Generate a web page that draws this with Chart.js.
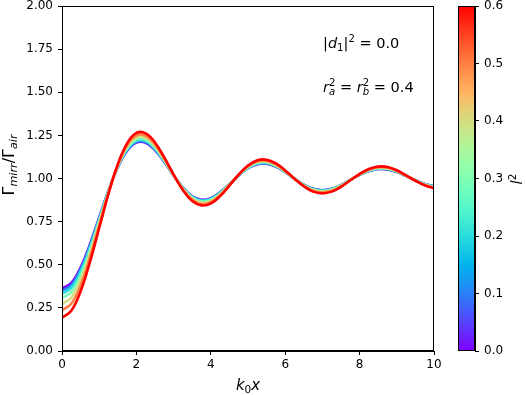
<!DOCTYPE html>
<html>
<head>
<meta charset="utf-8">
<script src="https://cdn.jsdelivr.net/npm/chart.js@4"></script>
<style>
  body { margin: 0; background: #fff; }
  canvas { position: absolute; left: 0; top: 0; }
</style>
</head>
<body>
<canvas id="myChart" width="526" height="395"></canvas>
<canvas id="colorBar" width="526" height="395"></canvas>
<script>
// k0 x positions
var xs = [0, 0.25, 0.5, 0.75, 1, 1.25, 1.5, 1.75, 2, 2.25, 2.5, 2.75, 3, 3.25, 3.5, 3.75, 4, 4.25, 4.5, 4.75,
          5, 5.25, 5.5, 5.75, 6, 6.25, 6.5, 6.75, 7, 7.25, 7.5, 7.75, 8, 8.25, 8.5, 8.75, 9, 9.25, 9.5, 9.75, 10];

// l^2 values of the curves
var l2 = [0.0, 0.1, 0.2, 0.3, 0.4, 0.5, 0.6];

// Gamma_mirr / Gamma_air, one array per l^2
var g00 = [0.363, 0.395, 0.484, 0.617, 0.774, 0.930, 1.065, 1.161, 1.208, 1.207, 1.165, 1.096, 1.018, 0.947, 0.897, 0.877, 0.886, 0.920, 0.968, 1.018,
           1.060, 1.083, 1.086, 1.069, 1.037, 0.999, 0.964, 0.940, 0.932, 0.940, 0.962, 0.992, 1.021, 1.044, 1.055, 1.053, 1.038, 1.014, 0.990, 0.968, 0.956];
var g01 = [0.350, 0.382, 0.473, 0.609, 0.769, 0.929, 1.066, 1.164, 1.213, 1.211, 1.168, 1.098, 1.018, 0.946, 0.895, 0.874, 0.883, 0.918, 0.967, 1.018,
           1.061, 1.085, 1.088, 1.070, 1.038, 0.999, 0.963, 0.939, 0.931, 0.939, 0.961, 0.992, 1.021, 1.044, 1.056, 1.054, 1.039, 1.014, 0.990, 0.968, 0.955];
var g02 = [0.333, 0.366, 0.460, 0.599, 0.763, 0.927, 1.068, 1.169, 1.218, 1.217, 1.173, 1.101, 1.019, 0.945, 0.893, 0.871, 0.881, 0.916, 0.966, 1.019,
           1.062, 1.087, 1.090, 1.072, 1.039, 0.999, 0.963, 0.938, 0.929, 0.938, 0.960, 0.992, 1.022, 1.046, 1.057, 1.055, 1.040, 1.015, 0.989, 0.967, 0.954];
var g03 = [0.307, 0.341, 0.438, 0.583, 0.754, 0.924, 1.071, 1.175, 1.227, 1.226, 1.180, 1.105, 1.019, 0.942, 0.888, 0.866, 0.876, 0.912, 0.965, 1.020,
           1.065, 1.091, 1.094, 1.075, 1.040, 0.999, 0.961, 0.935, 0.926, 0.935, 0.959, 0.991, 1.023, 1.047, 1.060, 1.058, 1.041, 1.015, 0.989, 0.966, 0.952];
var g04 = [0.273, 0.309, 0.411, 0.563, 0.742, 0.921, 1.074, 1.184, 1.238, 1.236, 1.188, 1.110, 1.020, 0.940, 0.883, 0.859, 0.870, 0.908, 0.963, 1.021,
           1.068, 1.095, 1.098, 1.078, 1.042, 0.999, 0.959, 0.932, 0.923, 0.932, 0.957, 0.991, 1.024, 1.050, 1.062, 1.060, 1.043, 1.016, 0.988, 0.964, 0.949];
var g05 = [0.237, 0.274, 0.381, 0.541, 0.729, 0.917, 1.078, 1.193, 1.250, 1.248, 1.198, 1.115, 1.021, 0.936, 0.877, 0.852, 0.863, 0.903, 0.961, 1.022,
           1.071, 1.100, 1.103, 1.082, 1.044, 0.999, 0.957, 0.928, 0.919, 0.928, 0.954, 0.990, 1.025, 1.052, 1.066, 1.063, 1.045, 1.017, 0.988, 0.962, 0.947];
var g06 = [0.193, 0.233, 0.346, 0.515, 0.713, 0.912, 1.083, 1.204, 1.264, 1.262, 1.209, 1.122, 1.023, 0.933, 0.870, 0.844, 0.855, 0.898, 0.959, 1.023,
           1.075, 1.106, 1.109, 1.087, 1.047, 0.999, 0.955, 0.924, 0.914, 0.924, 0.952, 0.990, 1.026, 1.055, 1.069, 1.067, 1.048, 1.018, 0.987, 0.960, 0.944];

var series = [g00, g01, g02, g03, g04, g05, g06];

// tick labels
var yTicks = [0, 0.25, 0.5, 0.75, 1, 1.25, 1.5, 1.75, 2];
var xTicks = [0, 2, 4, 6, 8, 10];
var cbTicks = [0, 0.1, 0.2, 0.3, 0.4, 0.5, 0.6];

var FONT = '"DejaVu Sans", sans-serif';

// matplotlib "rainbow" colormap
function rainbow(t) {
  var r = Math.min(1, Math.abs(2 * t - 0.5));
  var g = Math.abs(Math.sin(Math.PI * t));
  var b = Math.abs(Math.cos(Math.PI * t / 2));
  return 'rgb(' + Math.round(r * 255) + ',' + Math.round(g * 255) + ',' + Math.round(b * 255) + ')';
}

// draw text made of pieces (italic / sub / sup), returns width
function rich(ctx, parts, x, y, size, dry) {
  var cx = x, lastStart = x, lastEnd = x;
  parts.forEach(function (p) {
    var s = (p.sub || p.sup) ? size * 0.7 : size;
    ctx.font = (p.it ? 'italic ' : '') + s + 'px ' + FONT;
    var dy = p.sub ? size * 0.2 : (p.sup ? -size * 0.4 : 0);
    var start = p.stack ? lastStart : cx;
    var w = ctx.measureText(p.t).width;
    if (!dry) ctx.fillText(p.t, start, y + dy);
    if (p.stack) {
      cx = Math.max(lastEnd, start + w);
    } else {
      lastStart = start;
      cx = start + w;
    }
    lastEnd = cx;
  });
  return cx - x;
}

var labelY = [{t: 'Γ'}, {t: 'mirr', it: true, sub: true}, {t: '/Γ'}, {t: 'air', it: true, sub: true}];
var labelX = [{t: 'k', it: true}, {t: '0', sub: true}, {t: 'x', it: true}];
var note1 = [{t: '|'}, {t: 'd', it: true}, {t: '1', sub: true}, {t: '|'}, {t: '2', sup: true}, {t: ' = 0.0'}];
var note2 = [{t: 'r', it: true}, {t: 'a', it: true, sub: true}, {t: '2', sup: true, stack: true}, {t: ' = '},
             {t: 'r', it: true}, {t: 'b', it: true, sub: true}, {t: '2', sup: true, stack: true}, {t: ' = 0.4'}];

var datasets = [];
for (var i = series.length - 1; i >= 0; i--) {
  datasets.push({
    label: 'l2 = ' + l2[i],
    data: xs.map(function (x, j) { return {x: x, y: series[i][j]}; }),
    borderColor: rainbow(l2[i] / 0.6),
    borderWidth: 2.6,
    pointRadius: 0,
    fill: false,
    tension: 0.4
  });
}

var frame = {
  id: 'frame',
  afterDraw: function (chart) {
    var ctx = chart.ctx, a = chart.chartArea;
    ctx.save();
    ctx.strokeStyle = '#000';
    ctx.lineWidth = 1;
    ctx.strokeRect(a.left + 0.5, a.top + 0.5, a.right - a.left - 1, a.bottom - a.top - 1);
    ctx.fillStyle = '#000';
    ctx.textBaseline = 'alphabetic';
    // notes
    rich(ctx, note1, 323, 48, 14.5);
    rich(ctx, note2, 323, 92, 14.5);
    // x title
    var w = rich(ctx, labelX, 0, 0, 15, true);
    rich(ctx, labelX, (a.left + a.right) / 2 - w / 2, 390, 15);
    // y title
    ctx.translate(14, 165);
    ctx.rotate(-Math.PI / 2);
    w = rich(ctx, labelY, 0, 0, 16, true);
    rich(ctx, labelY, -w / 2, 0, 16);
    ctx.restore();
  }
};

var noPad = function (s) {
  s.paddingTop = 0; s.paddingBottom = 0; s.paddingLeft = 0; s.paddingRight = 0;
};

var axisStyle = function (extra) {
  return Object.assign({
    type: 'linear',
    grid: { drawOnChartArea: false, drawTicks: true, tickLength: 4, color: '#000', tickWidth: 1 },
    border: { display: true, color: '#000', width: 1 }
  }, extra);
};

var config = {
  type: 'line',
  data: { datasets: datasets },
  options: {
    responsive: false,
    animation: false,
    devicePixelRatio: 1,
    layout: { padding: { left: 0, right: 92, top: 6, bottom: 0 } },
    plugins: { legend: { display: false }, tooltip: { enabled: false } },
    scales: {
      x: axisStyle({
        min: 0, max: 10,
        afterBuildTicks: function (s) { s.ticks = xTicks.map(function (v) { return {value: v}; }); },
        ticks: { color: '#000', font: { family: FONT, size: 12 }, padding: 3, maxRotation: 0,
                 callback: function (v) { return String(v); } },
        afterFit: function (s) { s.height = 44; noPad(s); }
      }),
      y: axisStyle({
        min: 0, max: 2,
        afterBuildTicks: function (s) { s.ticks = yTicks.map(function (v) { return {value: v}; }); },
        ticks: { color: '#000', font: { family: FONT, size: 12 }, padding: 5,
                 callback: function (v) { return v.toFixed(2); } },
        afterFit: function (s) { s.width = 62; noPad(s); }
      })
    }
  },
  plugins: [frame]
};

var myChart = new Chart(document.getElementById('myChart'), config);

// colour bar
var barFill = {
  id: 'barFill',
  beforeDatasetsDraw: function (chart) {
    var ctx = chart.ctx, a = chart.chartArea, y = chart.scales.y;
    var y0 = y.getPixelForValue(cbTicks[0]), y1 = y.getPixelForValue(cbTicks[cbTicks.length - 1]);
    var grad = ctx.createLinearGradient(0, y0, 0, y1);
    for (var k = 0; k <= 20; k++) grad.addColorStop(k / 20, rainbow(k / 20));
    ctx.save();
    ctx.fillStyle = grad;
    ctx.fillRect(a.left, y1, a.right - a.left, y0 - y1);
    ctx.strokeStyle = '#000';
    ctx.lineWidth = 1;
    ctx.strokeRect(a.left + 0.5, a.top + 0.5, a.right - a.left - 1, a.bottom - a.top - 1);
    // title
    ctx.fillStyle = '#000';
    ctx.translate(522, 179);
    ctx.rotate(-Math.PI / 2);
    var lab = [{t: 'l', it: true}, {t: '2', sup: true}];
    var w = rich(ctx, lab, 0, 0, 15, true);
    rich(ctx, lab, -w / 2, 0, 15);
    ctx.restore();
  }
};

var cbChart = new Chart(document.getElementById('colorBar'), {
  type: 'line',
  data: { datasets: [{ data: [], pointRadius: 0 }] },
  options: {
    responsive: false,
    animation: false,
    devicePixelRatio: 1,
    layout: { padding: { left: 458, right: 0, top: 6, bottom: 44 } },
    plugins: { legend: { display: false }, tooltip: { enabled: false } },
    scales: {
      x: { type: 'linear', display: false, min: 0, max: 1 },
      y: axisStyle({
        position: 'right',
        min: 0, max: 0.6,
        afterBuildTicks: function (s) { s.ticks = cbTicks.map(function (v) { return {value: v}; }); },
        ticks: { color: '#000', font: { family: FONT, size: 12 }, padding: 5,
                 callback: function (v) { return v.toFixed(1); } },
        afterFit: function (s) { s.width = 51; noPad(s); }
      })
    }
  },
  plugins: [barFill]
});
</script>
</body>
</html>
